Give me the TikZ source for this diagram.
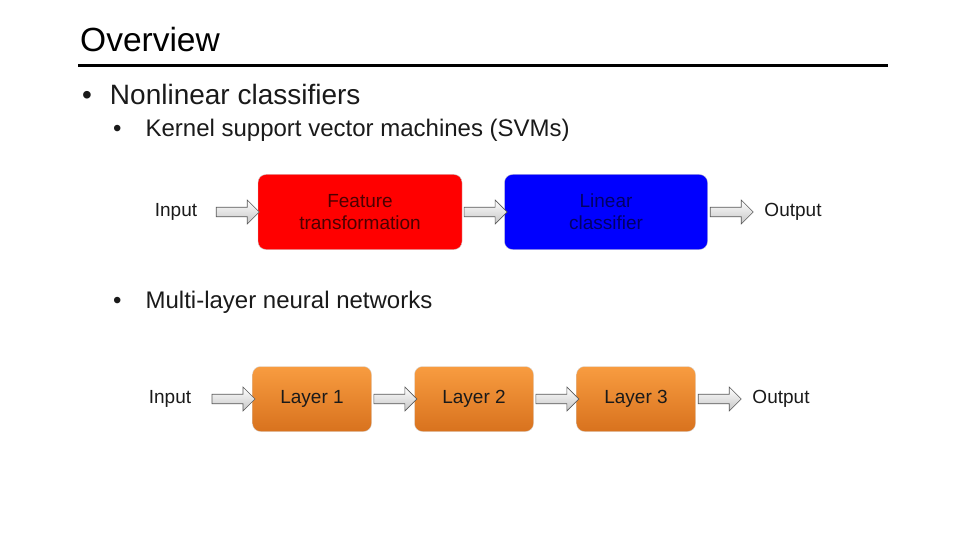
\documentclass[tikz,border=0pt]{standalone}
\usepackage{fontspec}
\setmainfont{Liberation Sans}
\usetikzlibrary{shapes.arrows,positioning}
\definecolor{orangetop}{HTML}{F89C40}
\definecolor{orangebot}{HTML}{D8721E}
\definecolor{textgray}{HTML}{1A1A1A}
\tikzset{
  stage/.style={rounded corners=8pt, draw=gray!40, minimum height=75pt, align=center, font=\fontsize{19}{22}\selectfont, inner sep=0pt},
  layer/.style={rounded corners=8pt, draw=gray!30, minimum width=119pt, minimum height=65pt, top color=orangetop, bottom color=orangebot, font=\fontsize{19}{22}\selectfont, text=textgray},
  label/.style={font=\fontsize{19}{22}\selectfont, text=textgray},
  blockarrow/.style={single arrow, draw=gray!70!black, top color=white, bottom color=gray!45, minimum height=43pt, minimum width=24pt, single arrow head extend=5pt, inner sep=3pt, line width=0.6pt}
}
\begin{document}
\begin{tikzpicture}[x=1pt,y=-1pt]
  \useasboundingbox (0,0) rectangle (960,540);
  % heading
  \node[anchor=west, font=\fontsize{33.5}{38}\selectfont, inner sep=0pt] (title) at (80,40) {Overview};
  \draw[line width=3pt] (78,66) -- (888,66);
  \node[anchor=west, font=\fontsize{28}{32}\selectfont, text=textgray, inner sep=0pt] (b1) at (82,94) {•\hspace{18pt}Nonlinear classifiers};
  \node[anchor=west, font=\fontsize{24}{28}\selectfont, text=textgray, inner sep=0pt] (b2) at (113,130) {•\hspace{24pt}Kernel support vector machines (SVMs)};
  \node[anchor=west, font=\fontsize{24}{28}\selectfont, text=textgray, inner sep=0pt] (b3) at (113,302) {•\hspace{24pt}Multi-layer neural networks};

  % kernel SVM pipeline
  \node[label] (in1) at (176,212) {Input};
  \node[stage, minimum width=204pt, fill=red, text=red!30!black] (feat) at (360,212) {Feature\\transformation};
  \node[stage, minimum width=203pt, fill=blue, text=blue!40!black] (lin) at (606,212) {Linear\\classifier};
  \node[label] (out1) at (793,212) {Output};
  \path (213,212) -- node[blockarrow] (a1) {} (feat.west);
  \path (feat.east) -- node[blockarrow] (a2) {} (lin.west);
  \path (lin.east) -- node[blockarrow] (a3) {} (751,212);

  % neural network pipeline
  \node[label] (in2) at (170,399) {Input};
  \node[layer] (l1) at (312,399) {Layer 1};
  \node[layer] (l2) at (474,399) {Layer 2};
  \node[layer] (l3) at (636,399) {Layer 3};
  \node[label] (out2) at (781,399) {Output};
  \path (210,399) -- node[blockarrow] (c1) {} (l1.west);
  \path (l1.east) -- node[blockarrow] (c2) {} (l2.west);
  \path (l2.east) -- node[blockarrow] (c3) {} (l3.west);
  \path (l3.east) -- node[blockarrow] (c4) {} (739,399);
\end{tikzpicture}
\end{document}
